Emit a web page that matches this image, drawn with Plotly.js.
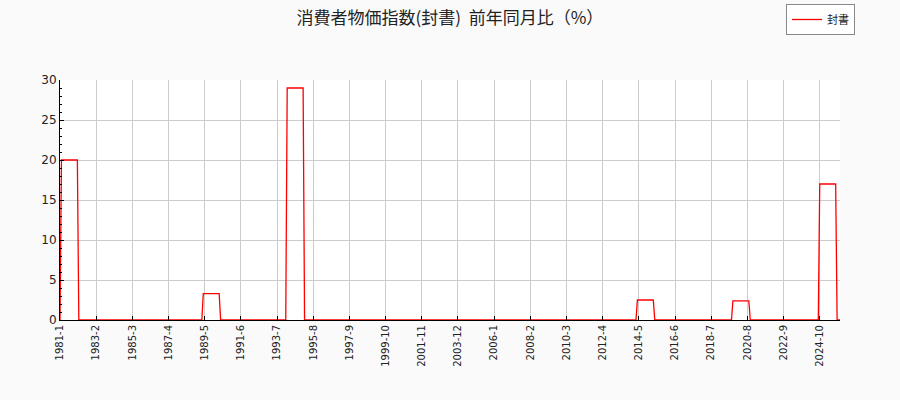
<!DOCTYPE html>
<html lang="ja">

<head>
    <meta charset="UTF-8">
    <script src="https://cdn.plot.ly/plotly-3.0.1.min.js"></script>
    <title>消費者物価指数(封書)</title>
    <style>
        body { margin: 0; background: #fafafa; }
    </style>
</head>

<body>
    <div id="chart" style="width:900px;height:400px;"></div>

    <script>
        // 前年同月比 (%) 1981-1 .. 2025-12, one row per year (Jan..Dec)
        var startYear = 1981
        var yoy = [
            0, 20, 20, 20, 20, 20, 20, 20, 20, 20, 20, 20,   // 1981
            20, 0, 0, 0, 0, 0, 0, 0, 0, 0, 0, 0,             // 1982
            0, 0, 0, 0, 0, 0, 0, 0, 0, 0, 0, 0,              // 1983
            0, 0, 0, 0, 0, 0, 0, 0, 0, 0, 0, 0,              // 1984
            0, 0, 0, 0, 0, 0, 0, 0, 0, 0, 0, 0,              // 1985
            0, 0, 0, 0, 0, 0, 0, 0, 0, 0, 0, 0,              // 1986
            0, 0, 0, 0, 0, 0, 0, 0, 0, 0, 0, 0,              // 1987
            0, 0, 0, 0, 0, 0, 0, 0, 0, 0, 0, 0,              // 1988
            0, 0, 0, 3.3, 3.3, 3.3, 3.3, 3.3, 3.3, 3.3, 3.3, 3.3, // 1989
            3.3, 3.3, 3.3, 0, 0, 0, 0, 0, 0, 0, 0, 0,        // 1990
            0, 0, 0, 0, 0, 0, 0, 0, 0, 0, 0, 0,              // 1991
            0, 0, 0, 0, 0, 0, 0, 0, 0, 0, 0, 0,              // 1992
            0, 0, 0, 0, 0, 0, 0, 0, 0, 0, 0, 0,              // 1993
            0, 29, 29, 29, 29, 29, 29, 29, 29, 29, 29, 29,   // 1994
            29, 0, 0, 0, 0, 0, 0, 0, 0, 0, 0, 0,             // 1995
            0, 0, 0, 0, 0, 0, 0, 0, 0, 0, 0, 0,              // 1996
            0, 0, 0, 0, 0, 0, 0, 0, 0, 0, 0, 0,              // 1997
            0, 0, 0, 0, 0, 0, 0, 0, 0, 0, 0, 0,              // 1998
            0, 0, 0, 0, 0, 0, 0, 0, 0, 0, 0, 0,              // 1999
            0, 0, 0, 0, 0, 0, 0, 0, 0, 0, 0, 0,              // 2000
            0, 0, 0, 0, 0, 0, 0, 0, 0, 0, 0, 0,              // 2001
            0, 0, 0, 0, 0, 0, 0, 0, 0, 0, 0, 0,              // 2002
            0, 0, 0, 0, 0, 0, 0, 0, 0, 0, 0, 0,              // 2003
            0, 0, 0, 0, 0, 0, 0, 0, 0, 0, 0, 0,              // 2004
            0, 0, 0, 0, 0, 0, 0, 0, 0, 0, 0, 0,              // 2005
            0, 0, 0, 0, 0, 0, 0, 0, 0, 0, 0, 0,              // 2006
            0, 0, 0, 0, 0, 0, 0, 0, 0, 0, 0, 0,              // 2007
            0, 0, 0, 0, 0, 0, 0, 0, 0, 0, 0, 0,              // 2008
            0, 0, 0, 0, 0, 0, 0, 0, 0, 0, 0, 0,              // 2009
            0, 0, 0, 0, 0, 0, 0, 0, 0, 0, 0, 0,              // 2010
            0, 0, 0, 0, 0, 0, 0, 0, 0, 0, 0, 0,              // 2011
            0, 0, 0, 0, 0, 0, 0, 0, 0, 0, 0, 0,              // 2012
            0, 0, 0, 0, 0, 0, 0, 0, 0, 0, 0, 0,              // 2013
            0, 0, 0, 2.5, 2.5, 2.5, 2.5, 2.5, 2.5, 2.5, 2.5, 2.5, // 2014
            2.5, 2.5, 2.5, 0, 0, 0, 0, 0, 0, 0, 0, 0,        // 2015
            0, 0, 0, 0, 0, 0, 0, 0, 0, 0, 0, 0,              // 2016
            0, 0, 0, 0, 0, 0, 0, 0, 0, 0, 0, 0,              // 2017
            0, 0, 0, 0, 0, 0, 0, 0, 0, 0, 0, 0,              // 2018
            0, 0, 0, 0, 0, 0, 0, 0, 0, 2.4, 2.4, 2.4,        // 2019
            2.4, 2.4, 2.4, 2.4, 2.4, 2.4, 2.4, 2.4, 2.4, 0, 0, 0, // 2020
            0, 0, 0, 0, 0, 0, 0, 0, 0, 0, 0, 0,              // 2021
            0, 0, 0, 0, 0, 0, 0, 0, 0, 0, 0, 0,              // 2022
            0, 0, 0, 0, 0, 0, 0, 0, 0, 0, 0, 0,              // 2023
            0, 0, 0, 0, 0, 0, 0, 0, 0, 17, 17, 17,           // 2024
            17, 17, 17, 17, 17, 17, 17, 17, 17, 0, 0, 0      // 2025
        ]

        // month labels like "1981-1"
        var months = []
        for (var i = 0; i < yoy.length; i++) {
            months.push((startYear + Math.floor(i / 12)) + '-' + (i % 12 + 1))
        }

        // a tick every 25 months
        var tickLabels = months.filter(function(m, i) { return i % 25 == 0 })

        var font = 'DejaVu Sans, sans-serif'
        var jpFont = 'Noto Sans CJK JP, sans-serif'

        Plotly.newPlot('chart', [{
            x: months,
            y: yoy,
            name: '封書',
            type: 'scatter',
            mode: 'lines',
            line: { color: '#ff0000', width: 1.3 }
        }], {
            width: 900,
            height: 400,
            margin: { l: 60, r: 60, t: 80, b: 80, autoexpand: false },
            paper_bgcolor: '#fafafa',
            plot_bgcolor: '#ffffff',
            showlegend: true,
            title: {
                text: '消費者物価指数(封書)  前年同月比（%）',
                font: { family: jpFont, size: 17, color: '#222' },
                x: 0.5,
                xanchor: 'center',
                y: 0.955,
                yanchor: 'middle'
            },
            legend: {
                xref: 'container',
                yref: 'container',
                x: 0.95,
                xanchor: 'right',
                y: 0.99,
                yanchor: 'top',
                itemwidth: 30,
                bgcolor: '#ffffff',
                bordercolor: '#888',
                borderwidth: 1,
                font: { family: jpFont, size: 11, color: '#222' }
            },
            xaxis: {
                type: 'category',
                range: [0, yoy.length - 1],
                tickmode: 'array',
                tickvals: tickLabels,
                ticktext: tickLabels,
                tickangle: -90,
                ticks: 'inside',
                ticklen: 4,
                tickcolor: '#000',
                showline: true,
                linecolor: '#000',
                linewidth: 1,
                showgrid: true,
                gridcolor: '#cccccc',
                zeroline: false,
                automargin: false,
                tickfont: { family: font, size: 10, color: '#222' }
            },
            yaxis: {
                range: [0, 30],
                dtick: 5,
                ticks: 'inside',
                ticklen: 4,
                tickcolor: '#000',
                showline: true,
                linecolor: '#000',
                linewidth: 1,
                showgrid: true,
                gridcolor: '#cccccc',
                zeroline: false,
                automargin: false,
                tickfont: { family: font, size: 12, color: '#222' },
                minor: { dtick: 1, ticks: 'inside', ticklen: 2, tickcolor: '#000', showgrid: false }
            }
        }, { displayModeBar: false, staticPlot: true });
    </script>
</body>

</html>
